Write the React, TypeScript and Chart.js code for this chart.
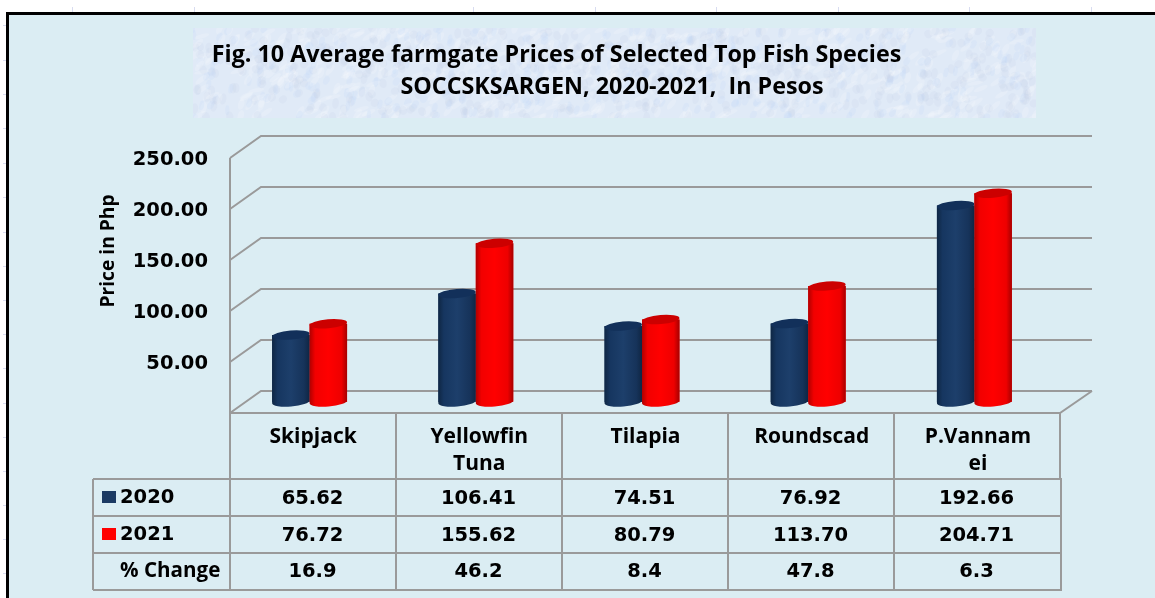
import React, { useEffect, useRef } from "react";
import { Chart, registerables } from "chart.js";

Chart.register(...registerables);

const categories: (string | string[])[] = ["Skipjack", ["Yellowfin", "Tuna"], "Tilapia", "Roundscad", ["P.Vannam", "ei"]];
const values2020 = [65.62, 106.41, 74.51, 76.92, 192.66];
const values2021 = [76.72, 155.62, 80.79, 113.7, 204.71];
const percentChange = ["16.9", "46.2", "8.4", "47.8", "6.3"];
const titleLine1 = "Fig. 10 Average farmgate Prices of Selected Top Fish Species";
const titleLine2 = "SOCCSKSARGEN, 2020-2021,  In Pesos";
const axisTitle = "Price in Php";

const TEXT_FONT = '"Open Sans"';
const NUM_FONT = '"DejaVu Sans"';
const LINE = "#9a9a9a";
const PANEL = "#DBEDF3";
const DEPTH_X = 31;
const DEPTH_Y = 11;
const FRONT_LEFT = 230;
const FRONT_RIGHT = 1060;

const shades: Record<string, { stops: string[]; cap: string }> = {
  "2020": { stops: ["#0f2744", "#163660", "#1d3f6b", "#16335a", "#0f2644"], cap: "#12305a" },
  "2021": { stops: ["#b00000", "#f20000", "#ff0000", "#ee0000", "#a60000"], cap: "#cc0000" },
};

const framePlugin = {
  id: "frame",
  beforeDraw(chart: any) {
    const { ctx, width, height } = chart;
    ctx.save();
    ctx.fillStyle = "#ffffff";
    ctx.fillRect(0, 0, width, height);
    ctx.fillStyle = PANEL;
    ctx.fillRect(7, 13, width - 7, height - 13);
    ctx.fillStyle = "#000000";
    ctx.fillRect(6, 12, width - 6, 3);
    ctx.fillRect(6, 12, 3, height - 12);
    // faint worksheet marks outside the frame
    ctx.fillStyle = "#d8dcf0";
    [72, 194, 473, 595, 716, 838, 969, 1091].forEach((x) => ctx.fillRect(x, 7, 1, 5));
    [25, 60, 94, 128, 163, 197, 232, 266, 300, 334, 368, 403, 437, 471, 505, 539, 573].forEach((y) =>
      ctx.fillRect(3, y, 3, 1)
    );
    // mottled title panel
    const bx = 193, by = 28, bw = 843, bh = 90;
    ctx.save();
    ctx.beginPath();
    ctx.rect(bx, by, bw, bh);
    ctx.clip();
    ctx.fillStyle = "#e0eaf7";
    ctx.fillRect(bx, by, bw, bh);
    for (let i = 0; i < 1500; i++) {
      const a = Math.abs(Math.sin(i * 12.9898) * 43758.5453) % 1;
      const b = Math.abs(Math.sin(i * 78.233) * 12543.1234) % 1;
      const c = Math.abs(Math.sin(i * 37.719) * 24634.6345) % 1;
      ctx.fillStyle = c > 0.6 ? "rgba(255,255,255,0.16)" : c > 0.25 ? "rgba(195,207,228,0.16)" : "rgba(195,220,250,0.22)";
      ctx.beginPath();
      ctx.ellipse(bx + a * bw, by + b * bh, 2 + c * 6, 2 + (1 - c) * 3, c * 3, 0, Math.PI * 2);
      ctx.fill();
    }
    ctx.restore();
    ctx.restore();
  },
  beforeDatasetsDraw(chart: any) {
    const { ctx } = chart;
    const y = chart.scales.y;
    ctx.save();
    ctx.strokeStyle = LINE;
    ctx.lineWidth = 2;
    const ticks = y.ticks.map((t: any) => t.value);
    ticks.forEach((v: number) => {
      const p = y.getPixelForValue(v);
      ctx.beginPath();
      ctx.moveTo(FRONT_LEFT, p + DEPTH_Y);
      ctx.lineTo(FRONT_LEFT + DEPTH_X, p - DEPTH_Y);
      ctx.lineTo(FRONT_RIGHT + DEPTH_X + 1, p - DEPTH_Y);
      ctx.stroke();
    });
    const p0 = y.getPixelForValue(0);
    const pTop = y.getPixelForValue(250);
    ctx.beginPath();
    ctx.moveTo(FRONT_LEFT, pTop + DEPTH_Y);
    ctx.lineTo(FRONT_LEFT, p0 + DEPTH_Y);
    ctx.lineTo(FRONT_RIGHT, p0 + DEPTH_Y);
    ctx.lineTo(FRONT_RIGHT + DEPTH_X + 1, p0 - DEPTH_Y);
    ctx.stroke();
    ctx.restore();
  },
  afterDatasetsDraw(chart: any) {
    const { ctx } = chart;
    const ry = 4.5;
    const tilt = -0.08;
    // The cylinder shading follows the library's bar elements; the later year sits in front.
    chart.data.datasets.forEach((ds: any, index: number) => {
      const shade = shades[ds.label];
      chart.getDatasetMeta(index).data.forEach((bar: any) => {
        const left = bar.x - bar.width / 2;
        const right = bar.x + bar.width / 2;
        const rx = bar.width / 2;
        const g = ctx.createLinearGradient(left, 0, right, 0);
        [0, 0.15, 0.5, 0.85, 1].forEach((s, i) => g.addColorStop(s, shade.stops[i]));
        ctx.save();
        ctx.fillStyle = g;
        ctx.beginPath();
        ctx.moveTo(left, bar.y);
        ctx.lineTo(left, bar.base);
        ctx.ellipse(bar.x, bar.base, rx, ry, tilt, Math.PI, 0, true);
        ctx.lineTo(right, bar.y);
        ctx.closePath();
        ctx.fill();
        ctx.fillStyle = shade.cap;
        ctx.beginPath();
        ctx.ellipse(bar.x, bar.y, rx, ry, tilt, 0, Math.PI * 2);
        ctx.fill();
        ctx.restore();
      });
    });
  },
  afterDraw(chart: any) {
    const { ctx } = chart;
    ctx.save();
    ctx.strokeStyle = LINE;
    ctx.lineWidth = 2;
    const colX = [230, 396, 562, 728, 894, 1060];
    const rowY = [479, 516, 553, 590];
    const top = 413;
    colX.forEach((x) => {
      ctx.beginPath();
      ctx.moveTo(x, top);
      ctx.lineTo(x, 479);
      ctx.stroke();
      ctx.beginPath();
      ctx.moveTo(x === 1060 ? 1061 : x, 479);
      ctx.lineTo(x === 1060 ? 1061 : x, 590);
      ctx.stroke();
    });
    ctx.beginPath();
    ctx.moveTo(93, 479);
    ctx.lineTo(93, 590);
    ctx.stroke();
    rowY.forEach((y) => {
      ctx.beginPath();
      ctx.moveTo(93, y);
      ctx.lineTo(1062, y);
      ctx.stroke();
    });
    // series keys
    ctx.fillStyle = "#1b3a63";
    ctx.fillRect(102, 491, 14, 12);
    ctx.fillStyle = "#ff0000";
    ctx.fillRect(102, 528, 14, 12);
    ctx.fillStyle = "#000000";
    ctx.textBaseline = "middle";
    ctx.textAlign = "left";
    ctx.font = `bold 19.5px ${NUM_FONT}`;
    ctx.fillText("2020", 120, 498);
    ctx.fillText("2021", 120, 535);
    ctx.font = `bold 20.6px ${TEXT_FONT}`;
    ctx.fillText("% Change", 120, 571);
    ctx.textAlign = "center";
    ctx.font = `bold 19.5px ${NUM_FONT}`;
    const centers = colX.slice(0, 5).map((x) => x + 82.5);
    const fmt = (v: number) => v.toFixed(2);
    values2020.forEach((v, i) => ctx.fillText(fmt(v), centers[i], 499));
    values2021.forEach((v, i) => ctx.fillText(fmt(v), centers[i], 536));
    percentChange.forEach((v, i) => ctx.fillText(v, centers[i], 572));
    // rotated value-axis caption
    ctx.translate(109, 251);
    ctx.rotate(-Math.PI / 2);
    ctx.font = `bold 19.2px ${TEXT_FONT}`;
    ctx.fillText(axisTitle, 0, 0);
    ctx.restore();
  },
  afterLayout(chart: any) {
    chart.boxes.forEach((b: any) => {
      if (b.options && b.options.text === titleLine1) {
        const dx = 556.5 - (b.left + b.right) / 2;
        b.left += dx;
        b.right += dx;
      }
      if (b.options && b.options.text === titleLine2) {
        const dx = 612 - (b.left + b.right) / 2;
        b.left += dx;
        b.right += dx;
      }
    });
  },
};

export default function App() {
  const ref = useRef<HTMLCanvasElement | null>(null);
  useEffect(() => {
    if (!ref.current) return;
    const chart = new Chart(ref.current, {
      type: "bar",
      data: {
        labels: categories as any,
        datasets: [
          { label: "2020", data: values2020, backgroundColor: "#1b3a63", categoryPercentage: 0.451, barPercentage: 1 },
          { label: "2021", data: values2021, backgroundColor: "#ff0000", categoryPercentage: 0.451, barPercentage: 1 },
        ],
      },
      options: {
        responsive: false,
        animation: false,
        layout: { padding: { left: 0, right: 97.5, top: 0, bottom: 0 } },
        plugins: {
          legend: { display: false },
          tooltip: { enabled: false },
          title: {
            display: true,
            text: titleLine1,
            color: "#000000",
            font: { family: TEXT_FONT, size: 23.3, weight: "bold", lineHeight: 24 / 23.3 },
            padding: { top: 43, bottom: 8 },
          },
          subtitle: {
            display: true,
            text: titleLine2,
            color: "#000000",
            font: { family: TEXT_FONT, size: 23.3, weight: "bold", lineHeight: 24 / 23.3 },
            padding: { top: 0, bottom: 48 },
          },
        },
        scales: {
          x: {
            grid: { display: false, drawTicks: false },
            border: { display: false },
            afterFit(scale: any) {
              scale.height = 196;
            },
            ticks: {
              color: "#000000",
              padding: 22,
              labelOffset: 3.5,
              maxRotation: 0,
              autoSkip: false,
              font: { family: TEXT_FONT, size: 21, weight: "bold", lineHeight: 27 / 21 },
            },
          },
          y: {
            min: 0,
            max: 250,
            grid: { display: false, drawTicks: false },
            border: { display: false },
            afterFit(scale: any) {
              scale.width = 226.5;
            },
            ticks: {
              stepSize: 50,
              color: "#000000",
              padding: 18.5,
              labelOffset: 13,
              font: { family: NUM_FONT, size: 19.5, weight: "bold" },
              callback: (v: any) => (Number(v) === 0 ? "" : Number(v).toFixed(2)),
            },
          },
        },
      },
      plugins: [framePlugin],
    } as any);
    return () => chart.destroy();
  }, []);
  return (
    <canvas
      ref={ref}
      width={1155}
      height={598}
      style={{ position: "fixed", left: 0, top: 0, width: 1155, height: 598, display: "block", filter: "blur(0.4px)" }}
    />
  );
}
